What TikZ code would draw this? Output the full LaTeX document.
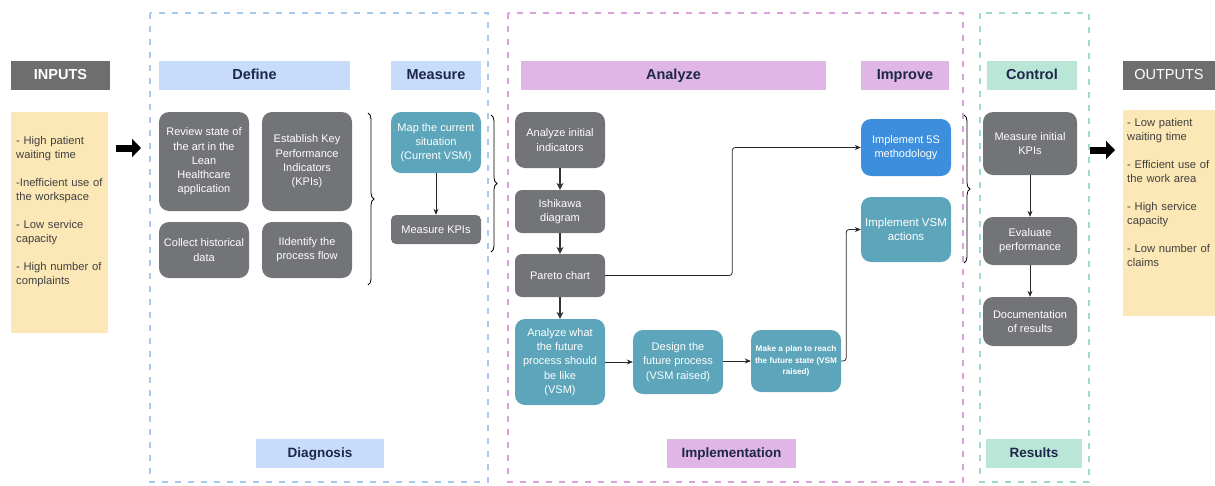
\documentclass[tikz,border=0pt]{standalone}
\usepackage{fontspec}
\setmainfont{Liberation Sans}
\usetikzlibrary{arrows.meta,decorations.pathreplacing,calc}
\definecolor{boxgray}{HTML}{737478}
\definecolor{hdrgray}{HTML}{6E6E6E}
\definecolor{teal}{HTML}{5CA5BA}
\definecolor{blue5s}{HTML}{3D8FDE}
\definecolor{hblue}{HTML}{C6DCFA}
\definecolor{hpink}{HTML}{DFB6E6}
\definecolor{hgreen}{HTML}{BAE6D8}
\definecolor{yel}{HTML}{FBE8B6}
\definecolor{navy}{HTML}{1E2748}
\definecolor{dblue}{HTML}{A9C8F0}
\definecolor{dpink}{HTML}{D9A3DA}
\definecolor{dgreen}{HTML}{9FD9C8}
\tikzset{
  box/.style={rounded corners=10pt, text=white, align=center, inner sep=2pt,
    font=\fontsize{11}{14.3}\selectfont, minimum width=90pt},
  gbox/.style={box, fill=boxgray},
  tbox/.style={box, fill=teal},
  hdr/.style={minimum height=29pt, inner sep=0pt, text height=10.5pt, text depth=3pt,
    font=\fontsize{14.5}{16}\selectfont\bfseries, text=navy},
  frame/.style={line width=1.3pt, dash pattern=on 6pt off 7pt},
  conn/.style={draw=black!85, line width=0.8pt, -{Stealth[length=6pt,width=5pt]}},
  connb/.style={draw=black!80, line width=1.4pt, -{Stealth[length=7pt,width=7pt]}},
  bigarrow/.style={line width=7pt, -{Triangle[length=9pt,width=18pt]}},
  brc/.style={decorate, decoration={brace, amplitude=6pt}, line width=0.8pt},
  io/.style={anchor=north west, align=left, text=black!75, inner sep=0pt,
    font=\fontsize{11.2}{14.5}\selectfont}
}
\begin{document}
\begin{tikzpicture}[x=1pt,y=-1pt]
\useasboundingbox (0,0) rectangle (1215,485);
% dashed frames
\draw[frame, draw=dblue] (150,13) rectangle (488,482);
\draw[frame, draw=dpink] (508,13) rectangle (963,482);
\draw[frame, draw=dgreen] (980,13) rectangle (1089,482);
% headers
\node[hdr, fill=hdrgray, text=white, minimum width=99pt] (inh) at (60.5,75.5) {INPUTS};
\node[hdr, fill=hblue, minimum width=191pt] (defh) at (254.5,75.5) {Define};
\node[hdr, fill=hblue, minimum width=90pt] (meah) at (436,75.5) {Measure};
\node[hdr, fill=hpink, minimum width=305pt] (anah) at (673.5,75.5) {Analyze};
\node[hdr, fill=hpink, minimum width=88pt] (imph) at (905,75.5) {Improve};
\node[hdr, fill=hgreen, minimum width=90pt] (conh) at (1032,75.5) {Control};
\node[hdr, fill=hdrgray, text=white, font=\fontsize{14.5}{16}\selectfont, minimum width=92pt] (outh) at (1169,75.5) {OUTPUTS};
% bottom labels
\node[hdr, fill=hblue, minimum width=128pt, font=\fontsize{13.5}{15}\selectfont\bfseries] (diag) at (320,453.5) {Diagnosis};
\node[hdr, fill=hpink, minimum width=129pt, font=\fontsize{13.5}{15}\selectfont\bfseries] (impl) at (731.5,453.5) {Implementation};
\node[hdr, fill=hgreen, minimum width=96pt, font=\fontsize{13.5}{15}\selectfont\bfseries] (res) at (1034,453.5) {Results};
% inputs / outputs
\node[fill=yel, minimum width=97pt, minimum height=221pt, inner sep=0pt] (inbox) at (59.5,222.5) {};
\node[io, text width=92pt] (intext) at (16,136) {- High patient\\waiting time\\[13pt]-Inefficient use of\\the workspace\\[13pt]- Low service\\capacity\\[13pt]- High number of\\complaints};
\node[fill=yel, minimum width=92pt, minimum height=206pt, inner sep=0pt] (outbox) at (1169,213) {};
\node[io, text width=88pt] (outtext) at (1127,118) {- Low patient\\waiting time\\[13pt]- Efficient use of\\the work area\\[13pt]- High service\\capacity\\[13pt]- Low number of\\claims};
% big arrows
\coordinate (ia1) at (116,148); \coordinate (ia2) at (141,148);
\coordinate (oa1) at (1090,150); \coordinate (oa2) at (1115,150);
\draw[bigarrow] (ia1) -- (ia2);
\draw[bigarrow] (oa1) -- (oa2);
% Define
\node[gbox, minimum height=99pt] (rev) at (204,161.5) {Review state of\\the art in the\\Lean\\Healthcare\\application};
\node[gbox, minimum height=99pt] (est) at (307,161.5) {Establish Key\\Performance\\Indicators\\(KPIs)};
\node[gbox, minimum height=56pt] (col) at (204,250) {Collect historical\\data};
\node[gbox, minimum height=56pt] (ide) at (307,250) {IIdentify the\\process flow};
\coordinate (b1a) at (368,113); \coordinate (b1b) at (368,285);
\draw[brc] (b1a) -- (b1b);
% Measure
\node[tbox, minimum height=61pt] (map) at (436,142.5) {Map the current\\situation\\(Current VSM)};
\node[gbox, minimum height=29pt, rounded corners=5pt] (mk) at (436,229.5) {Measure KPIs};
\draw[conn] (map) -- (mk);
\coordinate (b2a) at (491,115); \coordinate (b2b) at (491,252);
\draw[brc] (b2a) -- (b2b);
% Analyze
\node[gbox, minimum height=56pt] (ai) at (560,140) {Analyze initial\\indicators};
\node[gbox, minimum height=43pt, rounded corners=7pt] (ish) at (560,211.5) {Ishikawa\\diagram};
\node[gbox, minimum height=43pt, rounded corners=7pt] (par) at (560,275.5) {Pareto chart};
\node[tbox, minimum height=86pt] (fut) at (560,362) {Analyze what\\the future\\process should\\be like\\(VSM)};
\node[tbox, minimum height=64pt] (des) at (678,362) {Design the\\future process\\(VSM raised)};
\node[tbox, minimum height=62pt, font=\fontsize{8.2}{11.5}\selectfont\bfseries] (plan) at (796,361) {Make a plan to reach\\the future state (VSM\\raised)};
\node[box, fill=blue5s, minimum height=57pt] (s5) at (906,147.5) {Implement 5S\\methodology};
\node[tbox, minimum height=65pt, font=\fontsize{11.5}{14.5}\selectfont] (vsm) at (906,229.5) {Implement VSM\\actions};
\draw[connb] (ai) -- (ish);
\draw[connb] (ish) -- (par);
\draw[connb] (par) -- (fut);
\draw[conn] (fut.east |- des.west) -- (des.west);
\draw[conn] (des.east |- plan.west) -- (plan.west);
\draw[conn, rounded corners=3pt] (par.east) -- ++(127,0) |- (s5.west);
\draw[conn, rounded corners=3pt] (plan.east) -- ++(5,0) |- (vsm.west);
\coordinate (b3a) at (964,115); \coordinate (b3b) at (964,263);
\draw[brc] (b3a) -- (b3b);
% Control
\node[gbox, minimum width=94pt, minimum height=63pt] (mi) at (1030,143.5) {Measure initial\\KPIs};
\node[gbox, minimum width=94pt, minimum height=48pt] (ev) at (1030,241) {Evaluate\\performance};
\node[gbox, minimum width=94pt, minimum height=49pt] (doc) at (1030,321.5) {Documentation\\of results};
\draw[conn] (mi) -- (ev);
\draw[conn] (ev) -- (doc);
\end{tikzpicture}
\end{document}
